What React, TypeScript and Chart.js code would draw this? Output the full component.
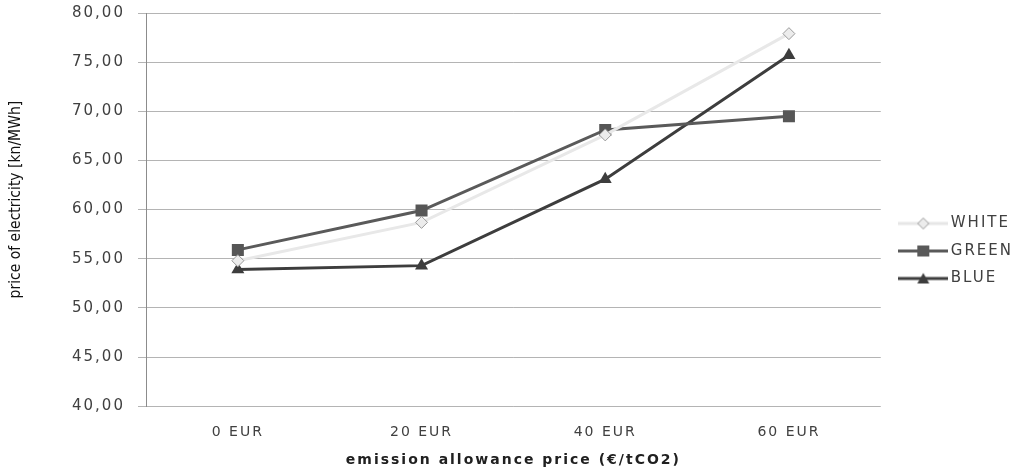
import React, { useEffect, useRef } from "react";
import { Chart, registerables } from "chart.js";

Chart.register(...registerables);

const categories = ["0 EUR", "20 EUR", "40 EUR", "60 EUR"];
const whiteValues = [54.8, 58.7, 67.6, 77.9];
const greenValues = [55.9, 59.9, 68.1, 69.5];
const blueValues = [53.9, 54.3, 63.1, 75.7];
const seriesNames = ["WHITE", "GREEN", "BLUE"];
const yTitle = "price of electricity [kn/MWh]";
const xTitle = "emission allowance price (€/tCO2)";

function legendIcon(kind: string, line: string, fill: string, stroke: string): HTMLCanvasElement {
  const c = document.createElement("canvas");
  c.width = 50;
  c.height = 14;
  const g = c.getContext("2d")!;
  g.strokeStyle = line;
  g.lineWidth = 3;
  g.beginPath();
  g.moveTo(0, 7);
  g.lineTo(50, 7);
  g.stroke();
  g.fillStyle = fill;
  g.strokeStyle = stroke;
  g.lineWidth = 1;
  g.beginPath();
  if (kind === "diamond") {
    g.moveTo(25, 1.5);
    g.lineTo(30.5, 7);
    g.lineTo(25, 12.5);
    g.lineTo(19.5, 7);
    g.closePath();
    g.fill();
    g.stroke();
  } else if (kind === "square") {
    g.rect(19, 1.5, 12, 11);
    g.fill();
  } else {
    g.moveTo(25, 1.5);
    g.lineTo(31, 12);
    g.lineTo(19, 12);
    g.closePath();
    g.fill();
  }
  return c;
}

const spacingPlugin = {
  id: "spacing",
  beforeUpdate(c: any) {
    c.ctx.letterSpacing = "2px";
  },
  beforeDraw(c: any) {
    c.ctx.letterSpacing = "2px";
  },
};

const legendShiftPlugin = {
  id: "legendShift",
  afterLayout(c: any) {
    const lg = c.legend;
    if (!lg) return;
    const dx = 10;
    const dy = 8;
    lg.left += dx;
    lg.right += dx;
    lg.top += dy;
    lg.bottom += dy;
  },
};

const yTitlePlugin = {
  id: "yTitle",
  afterDraw(c: any) {
    const ctx = c.ctx;
    const a = c.chartArea;
    ctx.save();
    ctx.letterSpacing = "0px";
    ctx.translate(16, (a.top + a.bottom) / 2 - 10);
    ctx.rotate(-Math.PI / 2);
    ctx.font = "15.5px 'DejaVu Sans Condensed'";
    ctx.fillStyle = "#111";
    ctx.textAlign = "center";
    ctx.textBaseline = "middle";
    ctx.fillText(yTitle, 0, 0);
    ctx.restore();
  },
};

export default function App() {
  const ref = useRef<HTMLCanvasElement>(null);
  useEffect(() => {
    const icons = [
      legendIcon("diamond", "#e6e6e6", "#ececec", "#9a9a9a"),
      legendIcon("square", "#595959", "#595959", "#595959"),
      legendIcon("triangle", "#3d3d3d", "#3d3d3d", "#3d3d3d"),
    ];
    const chart = new Chart(ref.current!, {
      type: "line",
      data: {
        labels: categories,
        datasets: [
          {
            label: seriesNames[0],
            data: whiteValues,
            borderColor: "#e8e8e8",
            backgroundColor: "#ececec",
            pointBackgroundColor: "#ececec",
            pointBorderColor: "#9a9a9a",
            pointBorderWidth: 1,
            pointStyle: "rectRot",
            pointRadius: 6,
            borderWidth: 3,
          },
          {
            label: seriesNames[1],
            data: greenValues,
            borderColor: "#5a5a5a",
            backgroundColor: "#565656",
            pointBackgroundColor: "#565656",
            pointBorderColor: "#565656",
            pointStyle: "rect",
            pointRadius: 8.5,
            pointBorderWidth: 0,
            borderWidth: 3,
          },
          {
            label: seriesNames[2],
            data: blueValues,
            borderColor: "#3d3d3d",
            backgroundColor: "#3d3d3d",
            pointBackgroundColor: "#3d3d3d",
            pointBorderColor: "#3d3d3d",
            pointStyle: "triangle",
            pointRadius: 7.5,
            pointBorderWidth: 0,
            borderWidth: 3,
          },
        ],
      },
      options: {
        animation: false,
        responsive: true,
        maintainAspectRatio: false,
        layout: { padding: { top: 13, right: 0, bottom: 0, left: 72 } },
        plugins: {
          tooltip: { enabled: false },
          legend: {
            position: "right",
            align: "center",
            labels: {
              usePointStyle: true,
              pointStyleWidth: 40,
              padding: 12.5,
              color: "#404040",
              font: { family: "DejaVu Sans", size: 15 },
              generateLabels: (ch: any) =>
                ch.data.datasets.map((ds: any, i: number) => ({
                  text: ds.label,
                  pointStyle: icons[i],
                  fillStyle: ds.backgroundColor,
                  strokeStyle: ds.borderColor,
                  lineWidth: 0,
                  hidden: false,
                  datasetIndex: i,
                  fontColor: "#404040",
                })),
            },
          },
        },
        scales: {
          x: {
            offset: true,
            grid: { display: false, drawTicks: false },
            border: { display: false },
            ticks: {
              color: "#404040",
              padding: 19,
              font: { family: "DejaVu Sans", size: 14, lineHeight: 1 },
            },
            title: {
              display: true,
              text: xTitle,
              color: "#202020",
              font: { family: "DejaVu Sans", size: 14, weight: "bold" },
              padding: { top: -6, bottom: 4 },
            },
          },
          y: {
            min: 40,
            max: 80,
            afterFit: (s: any) => {
              s.width = 74;
            },
            grid: { color: "#b4b4b4", lineWidth: 1, tickLength: 8, drawTicks: true },
            border: { display: true, color: "#8c8c8c" },
            ticks: {
              stepSize: 5,
              color: "#404040",
              padding: 0,
              crossAlign: "far",
              font: { family: "DejaVu Sans", size: 15 },
              callback: (v: any) => Number(v).toFixed(2).replace(".", ","),
            },
            title: { display: false },
          },
        },
      },
      plugins: [spacingPlugin, legendShiftPlugin, yTitlePlugin],
    });
    return () => chart.destroy();
  }, []);
  return (
    <div style={{ position: "fixed", left: 0, top: 0, width: 1013, height: 473, background: "#fff" }}>
      <canvas ref={ref} />
    </div>
  );
}
